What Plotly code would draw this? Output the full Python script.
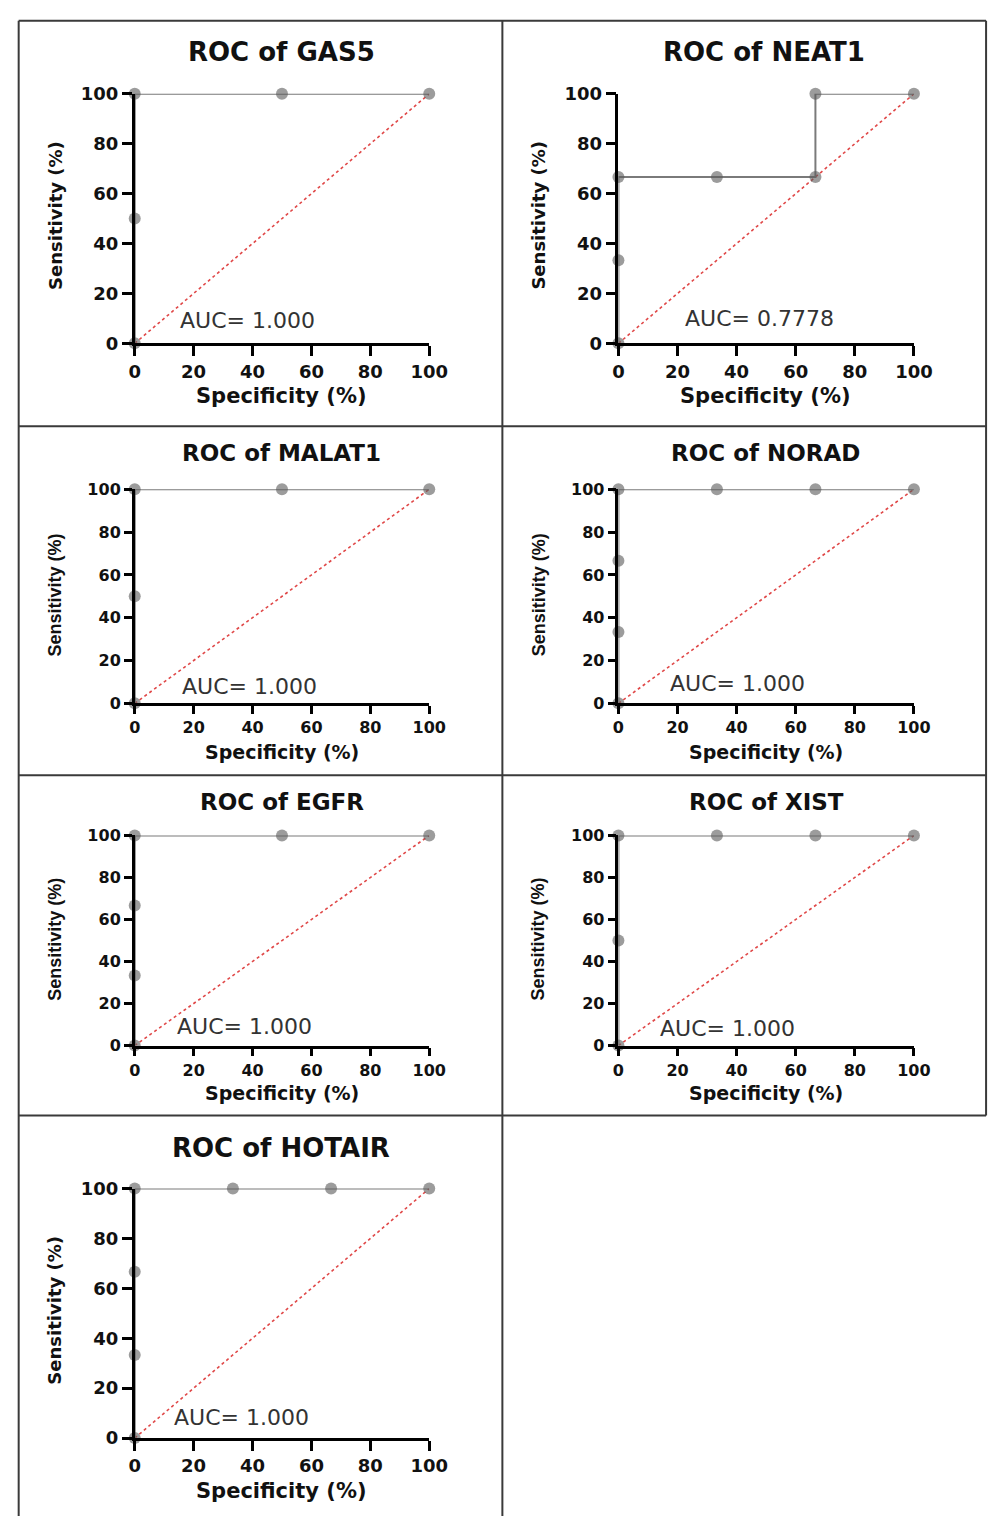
import plotly.graph_objects as go

W, H = 1008, 1526

# ---- data (Specificity %, Sensitivity %) ----
titles = ["ROC of GAS5", "ROC of NEAT1", "ROC of MALAT1", "ROC of NORAD",
          "ROC of EGFR", "ROC of XIST", "ROC of HOTAIR"]
auc_labels = ["AUC= 1.000", "AUC= 0.7778", "AUC= 1.000", "AUC= 1.000",
              "AUC= 1.000", "AUC= 1.000", "AUC= 1.000"]

gas5_x = [0, 0, 0, 50, 100]
gas5_y = [0, 50, 100, 100, 100]
neat1_x = [0, 0, 0, 33.33, 66.67, 66.67, 100]
neat1_y = [0, 33.33, 66.67, 66.67, 66.67, 100, 100]
malat1_x = [0, 0, 0, 50, 100]
malat1_y = [0, 50, 100, 100, 100]
norad_x = [0, 0, 0, 0, 33.33, 66.67, 100]
norad_y = [0, 33.33, 66.67, 100, 100, 100, 100]
egfr_x = [0, 0, 0, 0, 50, 100]
egfr_y = [0, 33.33, 66.67, 100, 100, 100]
xist_x = [0, 0, 0, 33.33, 66.67, 100]
xist_y = [0, 50, 100, 100, 100, 100]
hotair_x = [0, 0, 0, 0, 33.33, 66.67, 100]
hotair_y = [0, 33.33, 66.67, 100, 100, 100, 100]

series_x = [gas5_x, neat1_x, malat1_x, norad_x, egfr_x, xist_x, hotair_x]
series_y = [gas5_y, neat1_y, malat1_y, norad_y, egfr_y, xist_y, hotair_y]

ref_x = [0, 100]
ref_y = [0, 100]
tick_vals = [0, 20, 40, 60, 80, 100]

# AUC label positions in data units
auc_x = [38.4, 47.9, 39.0, 40.3, 37.4, 37.0, 36.4]
auc_y = [9.1, 9.9, 7.8, 9.2, 8.9, 8.0, 8.3]

# ---- layout geometry (pixels) ----
boxes = [
    (132, 434, 84, 337), (628, 931, 84, 337),
    (132, 434, 485, 702), (628, 931, 485, 702),
    (132, 434, 836, 1049), (628, 931, 836, 1049),
    (132, 434, 1194, 1447),
]
title_pos = [(283, 42), (777, 42), (282, 448), (779, 448), (283, 802), (780, 802), (282, 1153)]
xtitle_pos = [(283, 390), (779, 390), (283, 751), (779, 751), (283, 1097), (779, 1097), (283, 1501)]
ytitle_pos = [(50, 207), (546, 207), (50, 592), (546, 592), (50, 941), (546, 941), (50, 1317)]
title_sizes = [26, 26, 23, 23, 23, 23, 26]
xtitle_sizes = [21, 21, 19, 19, 19, 19, 21]
tick_sizes = [18, 18, 16, 16, 16, 16, 18]
ytitle_font = ["DejaVu Sans", "DejaVu Sans", "Liberation Sans", "Liberation Sans",
               "Liberation Sans", "Liberation Sans", "DejaVu Sans"]
ytitle_size = [18, 18, 18, 18, 18, 18, 18]


def px(x):
    return x / W


def py(y):
    return 1 - y / H


fig = go.Figure()
annotations = []

for i in range(7):
    n = "" if i == 0 else str(i + 1)
    xa, ya = "x" + n, "y" + n
    l, r, t, b = boxes[i]
    fig.add_trace(go.Scatter(
        x=ref_x, y=ref_y, mode="lines", xaxis=xa, yaxis=ya,
        line=dict(color="#e04848", width=1.6, dash="dot"),
        showlegend=False, hoverinfo="skip", cliponaxis=False))
    fig.add_trace(go.Scatter(
        x=series_x[i], y=series_y[i], mode="lines+markers", xaxis=xa, yaxis=ya,
        line=dict(color="#7a7a7a", width=2),
        marker=dict(size=12, color="rgba(90,90,90,0.6)", line=dict(width=0)),
        showlegend=False, cliponaxis=False))

    tl = 10 if i in (0, 1, 6) else 8
    axis_common = dict(
        range=[0, 100], tickvals=tick_vals, showgrid=False, zeroline=False,
        showline=True, linecolor="black", linewidth=2.5,
        ticks="outside", ticklen=tl, tickwidth=2.5, tickcolor="black",
        tickfont=dict(family="DejaVu Sans", size=tick_sizes[i], color="#111", weight="bold"),
        fixedrange=True,
    )
    fig.update_layout(**{
        ("xaxis" + n): dict(domain=[px(l), px(r)], anchor=ya, **axis_common),
        ("yaxis" + n): dict(domain=[py(b), py(t)], anchor=xa, **axis_common),
    })

    annotations.append(dict(
        x=auc_x[i], y=auc_y[i], xref=xa, yref=ya, text=auc_labels[i],
        showarrow=False, xanchor="center", yanchor="middle",
        font=dict(family="DejaVu Sans", size=22, color="#333")))
    tx, ty = title_pos[i]
    annotations.append(dict(
        x=px(tx), y=py(ty), xref="paper", yref="paper", text=titles[i],
        showarrow=False, xanchor="center", yanchor="middle",
        font=dict(family="DejaVu Sans", size=title_sizes[i], color="#111", weight="bold")))
    ax_, ay_ = xtitle_pos[i]
    annotations.append(dict(
        x=px(ax_), y=py(ay_), xref="paper", yref="paper", text="Specificity (%)",
        showarrow=False, xanchor="center", yanchor="middle",
        font=dict(family="DejaVu Sans", size=xtitle_sizes[i], color="#111", weight="bold")))
    yx, yy = ytitle_pos[i]
    annotations.append(dict(
        x=px(yx), y=py(yy), xref="paper", yref="paper", text="Sensitivity (%)",
        showarrow=False, xanchor="center", yanchor="middle", textangle=-90,
        font=dict(family=ytitle_font[i], size=ytitle_size[i], color="#111", weight="bold")))

# panel border lines (pixels)
border_lines = [
    (13, 10, 1005, 10),
    (13, 10, 13, H),
    (509, 10, 509, H),
    (1005, 10, 1005, 1120),
    (13, 421, 1005, 421),
    (13, 775, 1005, 775),
    (13, 1120, 1005, 1120),
]
shapes = [dict(type="line", xref="paper", yref="paper",
               x0=px(a), y0=py(b), x1=px(c), y1=py(d),
               line=dict(color="#3a3a3a", width=2)) for a, b, c, d in border_lines]

fig.update_layout(
    width=W, height=H, margin=dict(l=0, r=0, t=0, b=0),
    paper_bgcolor="white", plot_bgcolor="white",
    annotations=annotations, shapes=shapes, showlegend=False,
)

fig.write_html("out.html", config={"displayModeBar": False})
